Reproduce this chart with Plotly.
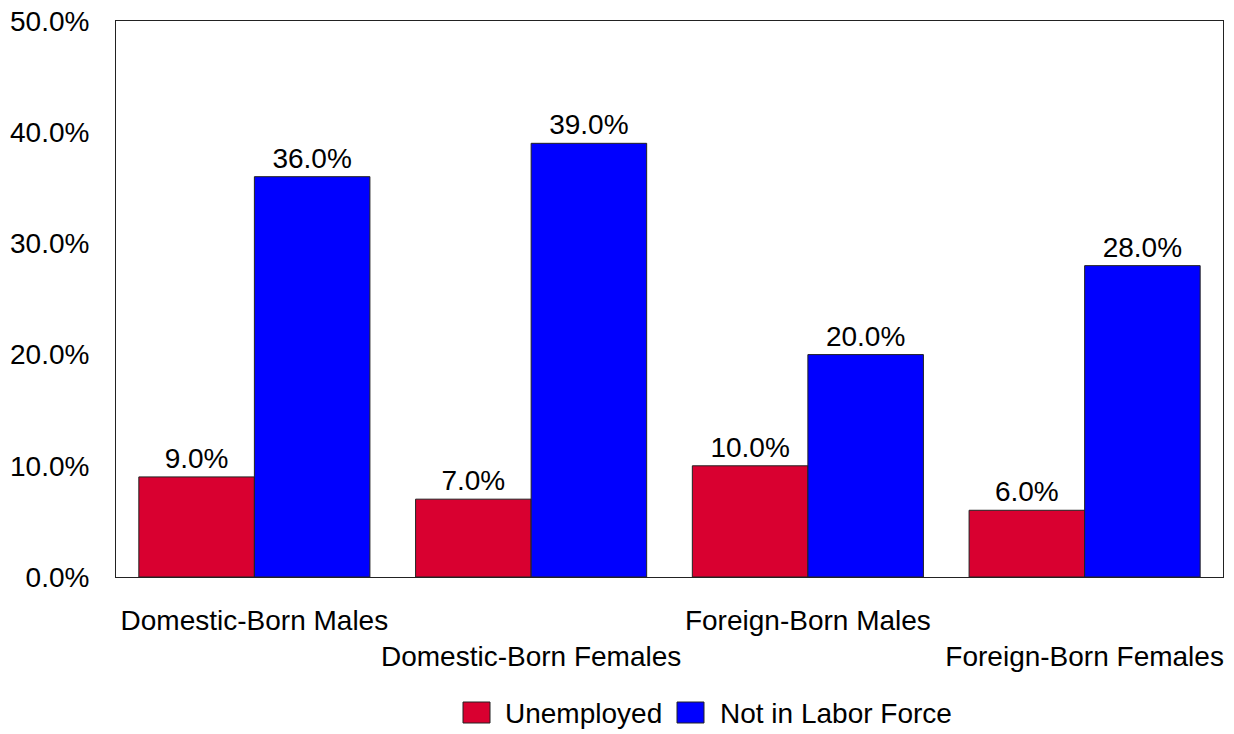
import plotly.graph_objects as go

categories = ["Domestic-Born Males", "Domestic-Born Females", "Foreign-Born Males", "Foreign-Born Females"]
unemployed = [0.09, 0.07, 0.10, 0.06]
not_in_labor_force = [0.36, 0.39, 0.20, 0.28]
series_names = ["Unemployed", "Not in Labor Force"]
colors = ["#D90030", "#0000FF"]
y_ticks = [0, 0.1, 0.2, 0.3, 0.4, 0.5]

FONT = "Liberation Sans, Arial, sans-serif"
FS = 28

fig = go.Figure()
for name, vals, col in zip(series_names, [unemployed, not_in_labor_force], colors):
    fig.add_trace(go.Bar(
        x=categories, y=vals, name=name,
        marker=dict(color=col, line=dict(color="#222222", width=1)),
        texttemplate="%{y:.1%}", textposition="outside",
        textfont=dict(family=FONT, size=FS, color="black"),
        cliponaxis=False, showlegend=False,
    ))

ticktext = [c if i % 2 == 0 else "<br>" + c for i, c in enumerate(categories)]

W, H = 1234, 734
L, R, T, B = 116, 11, 21, 157
pw, ph = W - L - R, H - T - B

fig.update_layout(
    width=W, height=H,
    margin=dict(l=L, r=R, t=T, b=B, autoexpand=False),
    paper_bgcolor="white", plot_bgcolor="white",
    barmode="group", bargap=0.165, bargroupgap=0,
    font=dict(family=FONT, size=FS, color="black"),
    xaxis=dict(tickmode="array", tickvals=categories, ticktext=ticktext,
               showline=True, linecolor="#222222", linewidth=1, mirror=True,
               ticks="", ticklabelstandoff=18, tickfont=dict(size=FS),
               tickangle=0, automargin=False, ticklabeloverflow="allow"),
    yaxis=dict(range=[0, 0.5], tickvals=y_ticks, tickformat=".1%",
               showline=True, linecolor="#222222", linewidth=1, mirror=True,
               showgrid=False, zeroline=False, ticks="", ticklabelstandoff=20,
               tickfont=dict(size=FS), automargin=False, ticklabeloverflow="allow"),
)

# convert pixel coordinates to paper coordinates
def px2x(px):
    return (px - L) / pw

def py2y(py):
    return (H - B - py) / ph

# custom legend
legend_items = [(463, 505), (677, 720)]
for (sx, tx), name, col in zip(legend_items, series_names, colors):
    fig.add_shape(type="rect", xref="paper", yref="paper",
                  x0=px2x(sx), x1=px2x(sx + 27), y0=py2y(723), y1=py2y(702),
                  fillcolor=col, line=dict(color="#222222", width=1))
    fig.add_annotation(xref="paper", yref="paper", x=px2x(tx - 2), y=py2y(713),
                       text=name, showarrow=False, xanchor="left", yanchor="middle",
                       font=dict(family=FONT, size=FS, color="black"))

fig.write_html("out.html",
               config={"displayModeBar": False},
               post_script="document.body.style.margin='0';document.body.style.overflow='hidden';")
